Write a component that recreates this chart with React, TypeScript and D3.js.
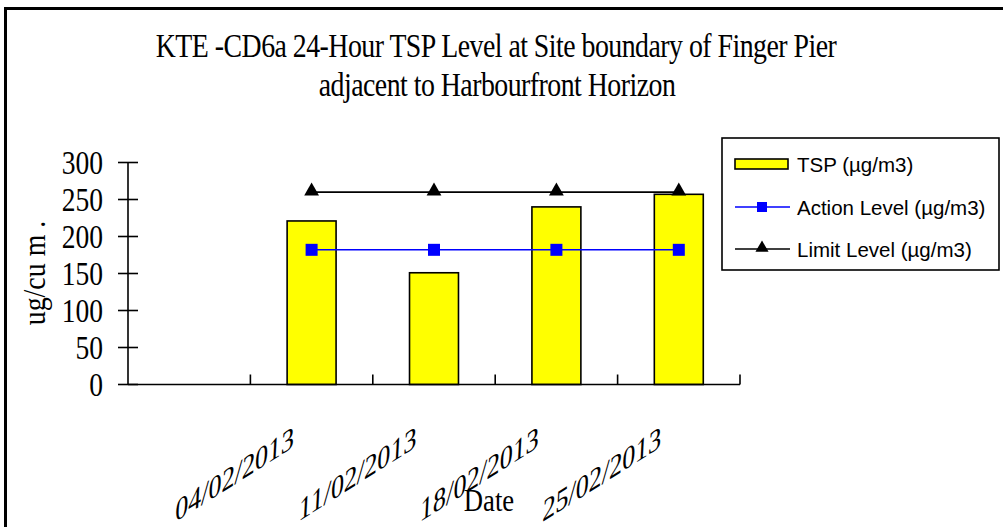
import React from "react";
import * as d3 from "d3";

const categories = ["", "04/02/2013", "11/02/2013", "18/02/2013", "25/02/2013"];
const tspValues: (number | null)[] = [null, 221, 151, 240, 257];
const actionLevel: (number | null)[] = [null, 182, 182, 182, 182];
const limitLevel: (number | null)[] = [null, 260, 260, 260, 260];
const yTicks = [0, 50, 100, 150, 200, 250, 300];
const titleLines = [
  "KTE -CD6a 24-Hour TSP Level at Site boundary of Finger Pier",
  "adjacent to Harbourfront Horizon",
];
const legendLabels = ["TSP (µg/m3)", "Action Level (µg/m3)", "Limit Level (µg/m3)"];

const W = 1003;
const H = 527;
const SERIF = "'Liberation Serif', 'DejaVu Serif', serif";
const SANS = "'Liberation Sans', Arial, sans-serif";

export default function App() {
  const x0 = 128, x1 = 740, yBase = 384.5, yTop = 162.5;
  const x = d3.scaleBand<string>().domain(categories.map((c, i) => String(i))).range([x0, x1]).padding(0);
  const y = d3.scaleLinear().domain([0, 300]).range([yBase, yTop]);
  const bw = x.bandwidth();
  const barW = bw * 0.4;
  const cx = (i: number) => (x(String(i)) as number) + bw / 2;

  const lineGen = d3
    .line<{ i: number; v: number | null }>()
    .defined((d) => d.v != null)
    .x((d) => cx(d.i))
    .y((d) => y(d.v as number));

  const actionPts = actionLevel.map((v, i) => ({ i, v }));
  const limitPts = limitLevel.map((v, i) => ({ i, v }));
  const tri = d3.symbol().type(d3.symbolTriangle).size(95)() as string;

  return (
    <svg width={W} height={H} style={{ position: "absolute", left: 0, top: 0, background: "#fff" }}>
      <rect x={0} y={0} width={W} height={H} fill="#fff" />
      <line x1={5.5} x2={5.5} y1={7} y2={H} stroke="#000" strokeWidth={3} />
      <line x1={4} x2={W} y1={8.5} y2={8.5} stroke="#000" strokeWidth={3} />

      {/* title */}
      <text transform="translate(496,57) scale(0.87,1.08)" fontFamily={SERIF} fontSize={32} textAnchor="middle" letterSpacing={-0.6}>
        {titleLines[0]}
      </text>
      <text transform="translate(497,96) scale(0.87,1.08)" fontFamily={SERIF} fontSize={32} textAnchor="middle" letterSpacing={-0.6}>
        {titleLines[1]}
      </text>

      {/* y axis title */}
      <text
        transform={`translate(45,273) rotate(-90) scale(0.9,1.05)`}
        fontFamily={SERIF}
        fontSize={31}
        textAnchor="middle"
      >
        ug/cu m .
      </text>

      {/* bars */}
      {tspValues.map((v, i) =>
        v == null ? null : (
          <rect key={i} x={cx(i) - barW / 2} y={y(v)} width={barW} height={yBase - y(v)} fill="#ffff00" stroke="#000" strokeWidth={1.6} />
        )
      )}

      {/* y axis */}
      <line x1={x0} x2={x0} y1={yTop} y2={yBase} stroke="#000" strokeWidth={1.6} />
      {yTicks.map((t) => (
        <g key={t}>
          <line x1={x0 - 10} x2={x0 + 10} y1={y(t)} y2={y(t)} stroke="#000" strokeWidth={1.6} />
          <text
            transform={`translate(103,${y(t) + 11}) scale(0.86,1.05)`}
            fontFamily={SERIF}
            fontSize={32}
            textAnchor="end"
          >
            {t}
          </text>
        </g>
      ))}

      {/* x axis */}
      <line x1={x0} x2={x1} y1={yBase} y2={yBase} stroke="#000" strokeWidth={1.6} />
      {categories.map((c, i) => {
        const bx = (x(String(i)) as number) + bw;
        return <line key={i} x1={bx} x2={bx} y1={yBase} y2={yBase - 10} stroke="#000" strokeWidth={1.6} />;
      })}
      {categories.map((c, i) =>
        c === "" ? null : (
          <text
            key={"l" + i}
            transform={`matrix(0.9,-0.57,-0.06,1.1,${cx(i) - 18},447)`}
            fontFamily={SERIF}
            fontSize={29}
            textAnchor="end"
          >
            {c}
          </text>
        )
      )}
      <text transform={`translate(489,511) scale(0.86,1.05)`} fontFamily={SERIF} fontSize={31} textAnchor="middle">
        Date
      </text>

      {/* lines */}
      <path d={lineGen(limitPts) as string} fill="none" stroke="#000" strokeWidth={1.6} />
      <path d={lineGen(actionPts) as string} fill="none" stroke="#0000ff" strokeWidth={1.6} />
      {actionPts.map((d) =>
        d.v == null ? null : <rect key={"a" + d.i} x={cx(d.i) - 6} y={y(d.v) - 6} width={12} height={12} fill="#0000ff" />
      )}
      {limitPts.map((d) =>
        d.v == null ? null : <path key={"t" + d.i} d={tri} transform={`translate(${cx(d.i)},${y(d.v) - 1})`} fill="#000" />
      )}

      {/* legend */}
      <rect x={722} y={138} width={277} height={132} fill="#fff" stroke="#000" strokeWidth={1.6} />
      <rect x={735} y={159} width={53} height={10} fill="#ffff00" stroke="#000" strokeWidth={1.6} />
      <line x1={735} x2={790} y1={207} y2={207} stroke="#0000ff" strokeWidth={1.6} />
      <rect x={757} y={202} width={10} height={10} fill="#0000ff" />
      <line x1={735} x2={790} y1={249} y2={249} stroke="#000" strokeWidth={1.6} />
      <path d={d3.symbol().type(d3.symbolTriangle).size(75)() as string} transform="translate(762,248)" fill="#000" />
      {legendLabels.map((l, i) => (
        <text key={l} x={797} y={[164, 207, 249][i] + 7.5} fontFamily={SANS} fontSize={20.5}>
          {l}
        </text>
      ))}
    </svg>
  );
}
